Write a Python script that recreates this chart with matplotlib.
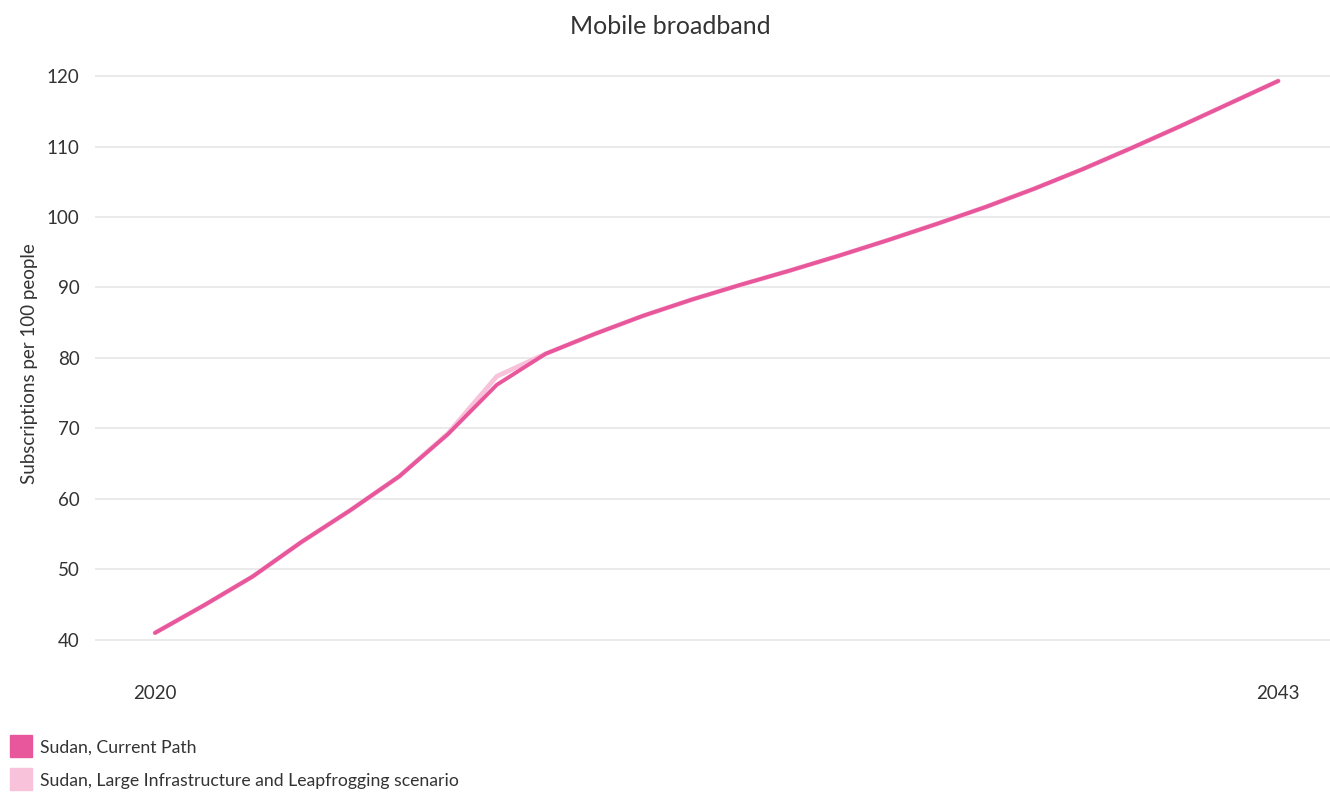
import matplotlib
matplotlib.use("Agg")
import matplotlib.pyplot as plt
from matplotlib.patches import Rectangle

plt.rcParams['font.family'] = ['Lato', 'DejaVu Sans']

years = list(range(2020, 2044))
current_path = [41.0, 44.9, 49.0, 53.9, 58.4, 63.2, 69.2, 76.2, 80.6, 83.4,
                86.0, 88.3, 90.4, 92.4, 94.5, 96.7, 99.0, 101.4, 104.0, 106.8,
                109.8, 112.9, 116.1, 119.3]
leapfrog = [41.0, 44.9, 49.0, 53.9, 58.4, 63.2, 69.3, 77.4, 80.6, 83.4,
            86.0, 88.3, 90.4, 92.4, 94.5, 96.7, 99.0, 101.4, 104.0, 106.8,
            109.8, 112.9, 116.1, 119.3]
series_names = ["Sudan, Current Path",
                "Sudan, Large Infrastructure and Leapfrogging scenario"]
colors = ["#E8579B", "#F7C2DA"]

fig = plt.figure(figsize=(13.3, 7.94), dpi=100)
ax = fig.add_axes([0.0714, 0.1763, 0.9286, 0.7324])

ax.plot(years, leapfrog, color=colors[1], lw=3.4, solid_capstyle='round', zorder=2)
ax.plot(years, current_path, color=colors[0], lw=2.8, solid_capstyle='round', zorder=3)

ax.set_xlim(2018.77, 2044.06)
ax.set_ylim(38, 120.5)
ax.set_yticks(range(40, 121, 10))
ax.set_xticks([2020, 2043])
ax.grid(axis='y', color='#e6e6e6', lw=1.2)
ax.set_axisbelow(True)
for s in ax.spines.values():
    s.set_visible(False)
ax.tick_params(length=0, labelsize=13.5, colors='#333333')
ax.tick_params(axis='y', pad=11)
ax.tick_params(axis='x', pad=22)
ax.set_ylabel("Subscriptions per 100 people", fontsize=13.5, color='#333333', labelpad=6)

fig.text(0.504, 0.966, "Mobile broadband", ha='center', va='center', fontsize=18, color='#333333')

# legend swatches along the bottom
for i, (name, c) in enumerate(zip(series_names, colors)):
    y0 = 757 + i * 33
    fig.patches.append(Rectangle((10 / 1330, (794 - y0) / 794), 22 / 1330, 22 / 794,
                                 transform=fig.transFigure, color=c))
    fig.text(40 / 1330, (794 - (y0 - 9)) / 794, name, ha='left', va='center',
             fontsize=12.7, color='#333333')

fig.savefig("out.png", dpi=100)
